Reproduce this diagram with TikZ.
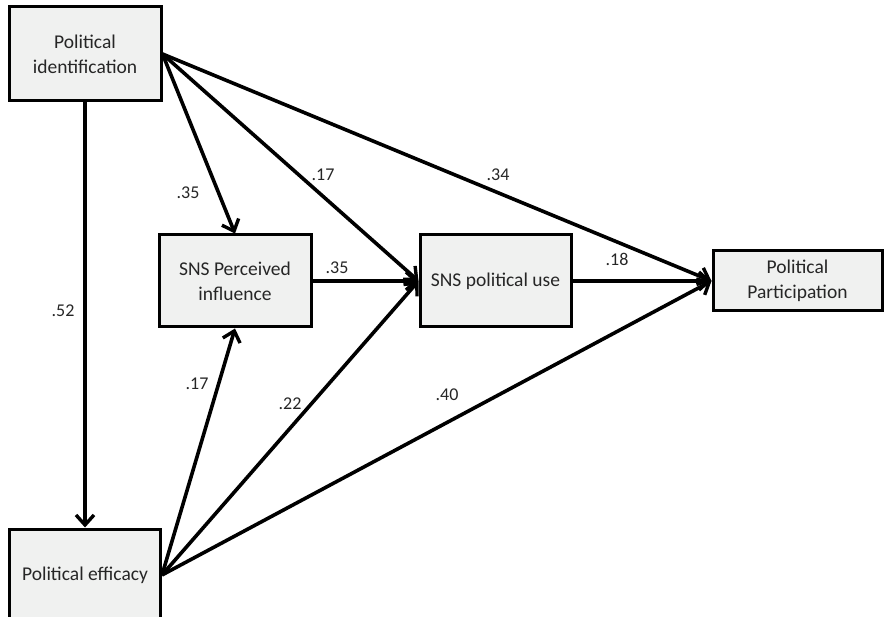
\documentclass[tikz,border=0pt]{standalone}
\usepackage{fontspec}
\setmainfont{Carlito}
\usetikzlibrary{arrows.meta}
\definecolor{boxfill}{HTML}{F0F1F0}
\definecolor{txt}{HTML}{262626}
\begin{document}
\begin{tikzpicture}[x=1pt,y=-1pt,
  box/.style={draw=black,line width=3pt,fill=boxfill,inner sep=0pt,align=center,text=txt,
    font=\fontsize{19.5}{25}\selectfont},
  conn/.style={line width=3.6pt,-{Straight Barb[length=10pt,width=18pt,line width=3.4pt]}},
  lab/.style={font=\fontsize{18}{21}\selectfont,text=txt,inner sep=0pt}]
\useasboundingbox (0,0) rectangle (884,617);
\clip (0,0) rectangle (884,617);
\node[box,minimum width=152pt,minimum height=94pt] (pid) at (85,54) {Political\\identification};
\node[box,minimum width=151pt,minimum height=92pt] (eff) at (85,575) {Political efficacy};
\node[box,minimum width=152pt,minimum height=92pt] (per) at (235,281) {SNS Perceived\\influence};
\node[box,minimum width=151pt,minimum height=92pt] (use) at (495.5,281) {SNS political use};
\node[box,minimum width=169pt,minimum height=60pt] (par) at (797.5,281) {Political\\Participation};
\draw[conn] (pid.east) -- (per.north);
\draw[conn] (pid.east) -- (use.west);
\draw[conn] (pid.east) -- (par.west);
\draw[conn] (pid.south) -- (eff.north);
\draw[conn] (per.east) -- (use.west);
\draw[conn] (use.east) -- (par.west);
\draw[conn] (eff.east) -- (per.south);
\draw[conn] (eff.east) -- (use.west);
\draw[conn] (eff.east) -- (par.west);
\node[lab] (l1) at (188,193) {.35};
\node[lab] (l2) at (323,175) {.17};
\node[lab] (l3) at (498,175) {.34};
\node[lab] (l4) at (63,311) {.52};
\node[lab] (l5) at (337,268) {.35};
\node[lab] (l6) at (617,259) {.18};
\node[lab] (l7) at (197,384) {.17};
\node[lab] (l8) at (290,404) {.22};
\node[lab] (l9) at (447,395) {.40};
\end{tikzpicture}
\end{document}
